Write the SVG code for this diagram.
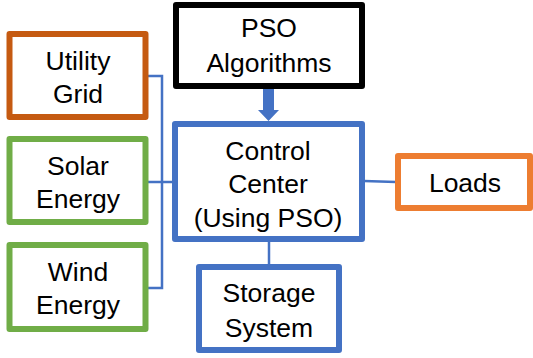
<svg xmlns="http://www.w3.org/2000/svg" width="533" height="358" viewBox="0 0 533 358">
<style>
.box{fill:#fff;stroke-width:6;stroke-linejoin:round}
.t{font-family:"Liberation Sans",Arial,sans-serif;font-size:26.5px;fill:#000;text-anchor:middle}
.c{fill:none;stroke:#4472C4;stroke-width:2.5}
</style>
<rect width="533" height="358" fill="#fff"/>
<g id="connectors">
<polyline class="c" points="148,76 162,76 162,288 148,288"/>
<line class="c" x1="148" y1="182" x2="174" y2="182"/>
<line class="c" x1="364" y1="181" x2="396" y2="182"/>
<line class="c" x1="269" y1="241" x2="269" y2="265"/>
<polygon points="263,89 274,89 274,110 279,110 268.5,121 258,110 263,110" fill="#4472C4"/>
</g>
<g id="utility"><rect class="box" x="9.5" y="34" width="136" height="83" stroke="#C55A11"/>
<text class="t" x="78" y="70">Utility</text><text class="t" x="78" y="103">Grid</text></g>
<g id="solar"><rect class="box" x="9.5" y="139" width="136" height="83" stroke="#70AD47"/>
<text class="t" x="78" y="175">Solar</text><text class="t" x="78" y="208">Energy</text></g>
<g id="wind"><rect class="box" x="9.5" y="245" width="136" height="84" stroke="#70AD47"/>
<text class="t" x="78" y="281">Wind</text><text class="t" x="78" y="314">Energy</text></g>
<g id="pso"><rect class="box" x="176" y="5" width="186" height="81" stroke="#000" stroke-width="7"/>
<text class="t" x="269" y="37">PSO</text><text class="t" x="269" y="72">Algorithms</text></g>
<g id="control"><rect class="box" x="175" y="124" width="187" height="115" stroke="#4472C4"/>
<text class="t" x="268" y="160">Control</text><text class="t" x="268" y="193">Center</text><text class="t" x="268" y="227">(Using PSO)</text></g>
<g id="loads"><rect class="box" x="398" y="156" width="132" height="52" stroke="#ED7D31"/>
<text class="t" x="465" y="192">Loads</text></g>
<g id="storage"><rect class="box" x="199" y="267" width="140" height="83" stroke="#4472C4"/>
<text class="t" x="269" y="302">Storage</text><text class="t" x="269" y="337">System</text></g>
</svg>
